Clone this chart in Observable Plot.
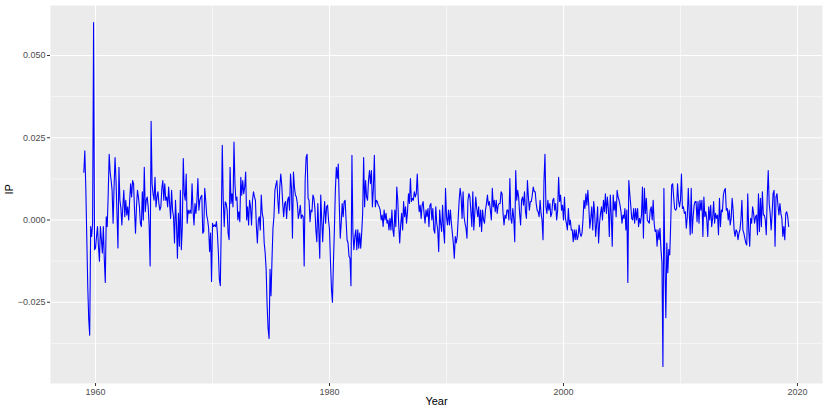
<!DOCTYPE html>
<html><head><meta charset="utf-8">
<script src="https://cdn.jsdelivr.net/npm/d3@7"></script>
<script src="https://cdn.jsdelivr.net/npm/@observablehq/plot@0.6"></script>
<style>body{margin:0;background:#fff}#chart svg{display:block}</style>
</head><body><div id="chart"></div>
<script>
const startYear = 1959;
const ip = [
0.0145,0.021,0.010,-0.005,-0.020,-0.030,-0.035,-0.002,-0.005,-0.001,
0.060,-0.009,-0.0085,-0.005,-0.002,-0.008,-0.0125,-0.002,-0.006,-0.010,
-0.002,-0.012,-0.019,0.001,-0.002,0.008,0.020,0.0145,0.012,0.009,
-0.001,0.010,0.019,0.012,0.002,-0.0085,0.016,0.006,0.0036,-0.0015,
0.004,0.009,0.001,0.006,0.0015,0.004,0.000,0.006,0.011,0.007,
0.012,0.011,0.003,-0.004,0.004,0.009,0.007,0.004,-0.001,
-0.002,0.0086,0.000,0.016,0.0025,0.006,0.007,0.004,-0.002,-0.014,
0.030,0.011,0.008,0.006,0.013,0.004,0.007,0.0086,0.005,0.003,
0.004,0.0096,0.012,0.006,0.011,0.006,0.007,0.004,0.010,0.005,
0.0005,0.009,0.003,0.001,-0.007,0.006,-0.001,-0.0116,0.002,-0.008,
0.009,-0.009,-0.002,0.0187,0.008,0.006,0.014,-0.001,0.003,0.002,
0.003,0.002,0.011,0.003,-0.0015,0.005,0.002,0.006,0.0126,0.003,
0.006,
0.007,0.0075,-0.004,-0.0035,0.0096,0.006,0.0015,0.000,-0.0025,-0.0096,
-0.004,-0.0187,-0.001,-0.002,-0.0015,-0.002,-0.0005,-0.004,-0.010,-0.018,
-0.020,-0.001,0.0227,0.006,-0.002,0.0055,0.005,0.003,-0.004,-0.006,
0.016,0.005,0.008,0.004,0.0237,0.011,0.006,0.007,0.000,0.0025,
-0.0005,0.013,0.0075,0.012,0.008,0.010,0.0146,0.000,0.004,-0.0015,
0.006,0.004,-0.0015,0.006,0.0086,0.007,0.006,-0.002,-0.007,0.000,
0.001,-0.003,
0.0076,0.002,0.0005,-0.007,-0.010,-0.015,-0.026,-0.033,-0.036,-0.015,
-0.023,-0.012,-0.0025,0.001,0.009,0.0106,0.012,0.006,0.002,0.010,
0.014,0.0106,0.005,0.001,0.005,0.0056,0.0005,0.006,0.007,0.003,
0.014,0.0096,-0.0055,0.0146,0.010,0.0076,0.007,0.005,0.0005,0.002,
0.0045,0.0005,0.0015,0.001,-0.014,0.012,0.019,0.020,0.0066,0.006,
-0.0005,0.003,0.0025,0.0076,0.0066,0.0035,-0.003,-0.0066,0.005,-0.003,
-0.0116,0.0076,
0.000,-0.0066,0.0005,0.0056,-0.001,0.004,0.0045,0.000,-0.003,-0.013,
-0.021,-0.025,-0.013,-0.003,0.009,0.016,0.0126,0.017,0.005,-0.0055,
-0.001,0.005,0.001,0.0056,0.006,0.000,-0.006,-0.007,-0.011,-0.0116,
-0.020,0.0197,-0.004,-0.009,-0.005,-0.003,-0.009,-0.003,-0.0086,-0.004,
-0.0086,-0.004,0.002,0.019,0.004,0.012,0.007,0.006,0.012,0.015,
0.011,0.015,0.004,0.0096,0.0197,0.004,0.006,0.0056,0.0045,0.004,
0.003,
0.000,0.0015,-0.002,0.003,0.000,0.002,-0.001,0.000,-0.003,0.0005,
-0.003,0.003,-0.003,-0.005,0.003,-0.002,0.010,0.006,-0.0015,-0.007,
-0.0015,0.002,-0.003,0.0056,0.001,0.004,-0.001,0.0025,0.008,0.005,
0.0126,0.0056,0.0066,0.006,0.0086,0.007,0.008,0.014,0.0066,0.0025,
0.0045,0.0005,0.0045,0.0056,0.002,-0.001,0.003,0.001,0.0035,-0.002,
0.0045,0.005,0.000,0.0035,-0.003,-0.004,0.004,-0.001,-0.003,-0.0096,
0.003,
-0.001,-0.0035,0.0045,-0.003,-0.007,0.0096,0.001,-0.0015,0.003,-0.0015,
0.003,-0.001,-0.004,-0.007,-0.0116,-0.005,-0.007,-0.005,0.0005,0.006,
0.0096,0.007,0.0005,0.0086,0.001,-0.001,-0.0025,-0.0055,0.006,0.008,
0.007,0.0025,-0.002,0.0086,-0.003,0.002,0.007,0.0035,0.001,0.004,
-0.002,0.003,-0.0035,0.003,0.000,-0.001,0.003,0.005,0.0076,0.0045,
0.0056,0.003,0.000,0.0096,0.004,0.006,0.0025,0.006,0.002,0.0045,
0.005,
0.005,0.0086,0.008,0.002,-0.0015,0.0015,0.0005,0.003,0.003,0.000,
0.0126,0.0005,-0.001,0.0035,0.0005,-0.0066,0.015,0.006,0.009,0.007,
0.002,-0.0015,0.006,0.007,0.0045,0.0086,0.0025,0.0005,0.012,0.007,
0.003,0.0056,0.0056,0.0076,0.010,0.0086,0.0086,0.005,0.003,0.0025,
0.001,0.006,0.002,0.000,-0.006,0.012,0.020,0.004,0.002,0.006,
0.003,0.005,0.001,0.002,0.006,0.0066,0.003,0.005,0.000,0.003,
0.013,0.0056,
0.0076,0.003,0.0045,0.000,0.007,0.0005,-0.001,-0.003,0.0035,-0.0015,
0.000,-0.003,-0.003,-0.0066,-0.003,-0.006,-0.003,-0.006,-0.005,-0.0015,
-0.004,-0.005,-0.004,0.000,0.006,0.0035,0.008,0.0045,0.009,0.004,
-0.0025,0.0005,0.004,-0.003,0.0056,0.002,-0.005,-0.001,0.004,-0.007,
-0.001,0.002,0.004,0.000,0.006,0.0025,0.008,0.002,0.007,0.0035,
-0.005,0.0076,0.0015,-0.008,0.0076,0.003,0.0056,0.001,0.009,0.007,
0.006,0.0045,
0.0025,-0.001,0.0015,0.0005,0.0035,-0.003,0.003,-0.019,0.012,0.008,
0.0045,0.0005,0.000,0.0035,-0.001,0.0035,0.000,0.0035,-0.002,0.0005,
-0.001,0.0015,0.010,-0.0055,0.0096,0.002,0.0066,0.000,-0.0005,-0.001,
0.003,0.004,0.000,0.006,-0.001,-0.0035,-0.003,-0.008,-0.003,-0.006,
-0.0025,-0.009,-0.013,-0.0445,0.0096,-0.013,-0.0297,-0.007,-0.016,-0.009,
-0.0106,-0.001,0.0106,0.011,0.007,0.0035,0.003,0.0035,0.011,0.006,
0.004,
0.006,0.014,0.0035,0.004,0.002,0.0025,-0.0025,0.001,0.0096,0.002,
-0.0045,0.0096,-0.004,0.001,0.0045,0.0056,0.0056,-0.0005,0.0056,-0.001,
0.006,0.003,0.006,-0.005,0.007,0.001,0.0025,0.000,-0.005,0.004,
0.000,0.0045,-0.002,0.0005,0.0056,-0.001,0.002,0.0005,0.0015,-0.0045,
0.0066,-0.002,0.003,0.0025,0.0076,0.009,0.0096,0.003,0.0035,0.000,
0.003,-0.0015,0.0005,0.0066,0.003,-0.003,-0.005,-0.003,-0.0035,-0.006,
-0.004,-0.003,
0.000,0.006,-0.003,-0.004,-0.0055,-0.007,-0.0076,0.008,-0.003,-0.008,
0.0005,-0.001,0.004,0.002,-0.001,0.001,0.0015,-0.0045,0.008,-0.0035,
0.0066,-0.002,0.0086,0.0015,0.0015,0.000,-0.0045,0.007,0.015,0.005,
0.002,-0.003,0.002,0.008,0.009,-0.008,0.007,0.008,0.0045,0.0015,
0.005,0.002,0.0005,-0.005,-0.002,-0.006,0.002,0.0025,0.001,-0.002
];
const xTicks = [1960, 1980, 2000, 2020];
const xMinor = [1970, 1990, 2010];
const yTicks = [-0.025, 0, 0.025, 0.05];
const yMinor = [-0.0375, -0.0125, 0.0125, 0.0375];
const xTitle = "Year";
const yTitle = "IP";

const data = ip.map((v, i) => ({year: startYear + i / 12, ip: v}));
const font = "'Liberation Sans', Arial, Helvetica, sans-serif";

const chart = Plot.plot({
  width: 830, height: 415,
  marginLeft: 50, marginRight: 8, marginTop: 5, marginBottom: 32,
  style: {fontFamily: font, fontSize: "9px", background: "#fff", overflow: "visible"},
  x: {domain: [1956.15, 2022.14], label: null},
  y: {domain: [-0.0497, 0.0652], label: null},
  marks: [
    Plot.frame({fill: "#EBEBEB", stroke: null}),
    Plot.ruleX(xMinor, {stroke: "#fff", strokeWidth: 0.55}),
    Plot.ruleY(yMinor, {stroke: "#fff", strokeWidth: 0.55}),
    Plot.ruleX(xTicks, {stroke: "#fff", strokeWidth: 1.1}),
    Plot.ruleY(yTicks, {stroke: "#fff", strokeWidth: 1.1}),
    Plot.line(data, {x: "year", y: "ip", stroke: "#0000FF", strokeWidth: 1.1}),
    Plot.axisX({ticks: xTicks, tickFormat: d => String(d), tickSize: 3, tickPadding: 2, stroke: "#333", fill: "#4D4D4D", label: null}),
    Plot.axisY({ticks: yTicks, tickFormat: d3.format(".3f"), tickSize: 3, tickPadding: 2, stroke: "#333", fill: "#4D4D4D", label: null}),
    Plot.text([xTitle], {frameAnchor: "bottom", dy: 21, fontSize: 11, fill: "#000"}),
    Plot.text([yTitle], {frameAnchor: "left", dx: -41, rotate: -90, fontSize: 11, fill: "#000"})
  ]
});
document.getElementById("chart").appendChild(chart);
</script>
</body></html>
